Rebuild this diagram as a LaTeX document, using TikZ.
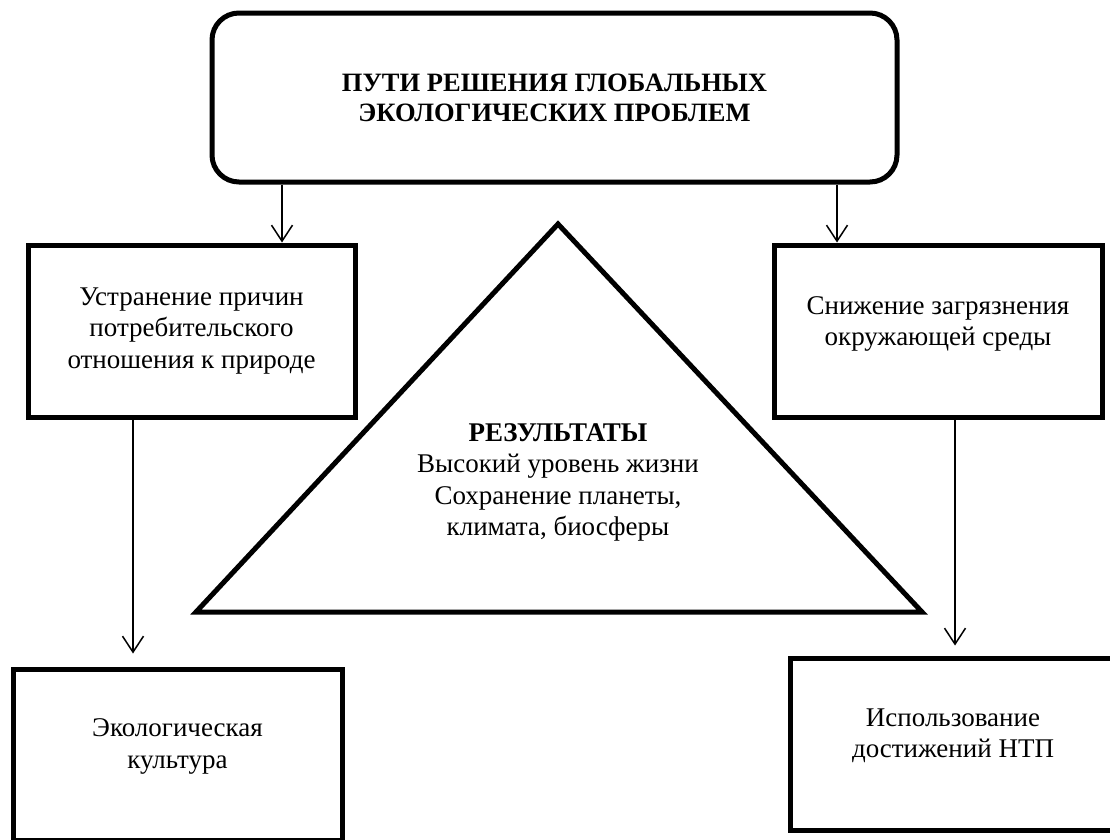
\documentclass[tikz,border=0pt]{standalone}
\usepackage{fontspec}
\setmainfont{Liberation Serif}
\usetikzlibrary{arrows.meta,calc}
\begin{document}
\begin{tikzpicture}[x=1pt,y=-1pt,
  thickbox/.style={draw, line width=5pt, rectangle, inner sep=0pt, align=center,
    font=\fontsize{27}{31.5}\selectfont},
  txt/.style={inner sep=0pt, align=center, font=\fontsize{27}{31.5}\selectfont},
  arr/.style={line width=1.5pt, -{Straight Barb[length=16pt,width=21pt,line width=1.5pt]}}]
\useasboundingbox (0,0) rectangle (1110,839);
\clip (0,0) rectangle (1110,839);
% top rounded box
\node[thickbox, rounded corners=27pt, minimum width=685pt, minimum height=169pt,
      font=\bfseries\fontsize{26.5}{30}\selectfont] (top) at (554.5,97.5)
  {ПУТИ РЕШЕНИЯ ГЛОБАЛЬНЫХ\\ЭКОЛОГИЧЕСКИХ ПРОБЛЕМ};
% middle boxes
\node[thickbox, minimum width=327pt, minimum height=172pt] (L) at (191.5,331)
  {Устранение причин\\потребительского\\отношения к природе};
\node[thickbox, minimum width=328pt, minimum height=172pt] (R) at (938,331) {};
\node[txt] (Rt) at (938,324) {Снижение загрязнения\\окружающей среды};
% bottom boxes
\node[thickbox, minimum width=329pt, minimum height=171pt] (BL) at (177.5,754.5) {};
\node[txt] (BLt) at (177.5,746.5) {Экологическая\\культура};
\node[thickbox, minimum width=328pt, minimum height=172pt] (BR) at (954,744) {};
\node[txt] (BRt) at (953,736) {Использование\\достижений НТП};
% triangle
\coordinate (apex) at (558,224);
\coordinate (tl) at (196,612);
\coordinate (tr) at (922,612);
\draw[line width=5pt, line join=miter] (apex) -- (tl) -- (tr) -- cycle;
\node[txt] (res) at (558,482.5)
  {\textbf{РЕЗУЛЬТАТЫ}\\Высокий уровень жизни\\Сохранение планеты,\\климата, биосферы};
% arrows
\coordinate (xa) at (282,0);
\coordinate (xb) at (837,0);
\coordinate (xc) at (133,0);
\coordinate (xd) at (955,0);
\draw[arr] (top.south -| xa) -- (L.north -| xa);
\draw[arr] (top.south -| xb) -- (R.north -| xb);
\draw[arr] (L.south -| xc) -- ($(BL.north -| xc)+(0,-13)$);
\draw[arr] (R.south -| xd) -- ($(BR.north -| xd)+(0,-10)$);
\end{tikzpicture}
\end{document}
